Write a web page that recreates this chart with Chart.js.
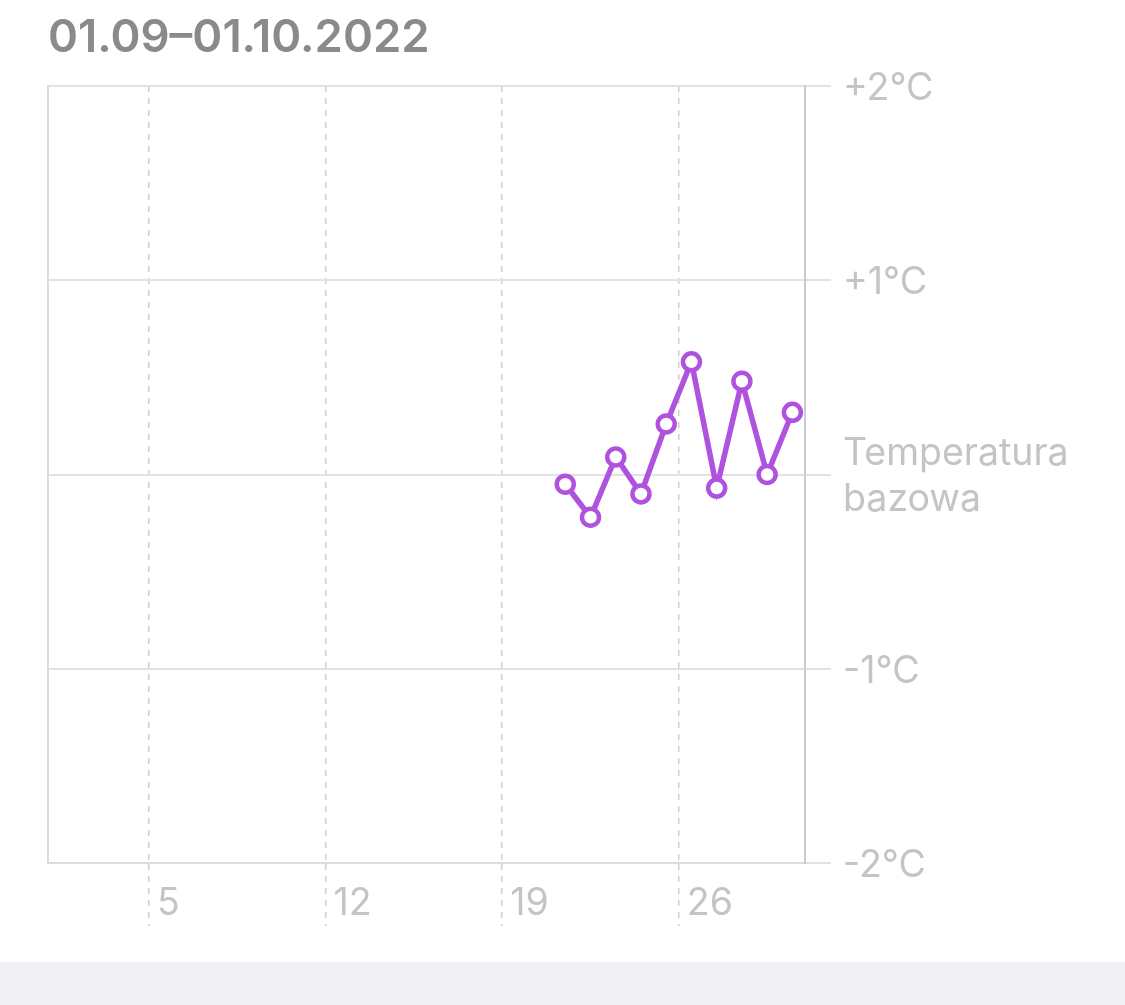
<!DOCTYPE html>
<html>
<head>
<meta charset="utf-8">
<script src="https://cdn.jsdelivr.net/npm/chart.js@4/dist/chart.umd.min.js"></script>
<style>
  html, body { margin: 0; padding: 0; background: #f0f0f5; }
  #wrap { position: relative; width: 1125px; height: 962px; background: #ffffff; }
  #title { position: absolute; left: 48px; top: 9px; font-family: Inter, "Noto Sans", sans-serif; font-weight: 600; font-size: 45.5px; line-height: 54px; color: #8a8a8e; }
  canvas { position: absolute; left: 0; top: 0; }
</style>
</head>
<body>
<div id="wrap">
  <canvas id="c" width="1125" height="962"></canvas>
  <div id="title">01.09–01.10.2022</div>
</div>
<script>
// ---- data ----
const dayLabels = ['21.09', '22.09', '23.09', '24.09', '25.09', '26.09', '27.09', '28.09', '29.09', '30.09'];
const dayPositions = [21.5, 22.5, 23.5, 24.5, 25.5, 26.5, 27.5, 28.5, 29.5, 30.5];
const temperatureDeviation = [-0.05, -0.22, 0.09, -0.10, 0.26, 0.58, -0.07, 0.48, 0.00, 0.32];
const xTickValues = [5, 12, 19, 26];
const yTickValues = [-2, -1, 0, 1, 2];
const yTickLabels = ['-2°C', '-1°C', ['Temperatura', 'bazowa'], '+1°C', '+2°C'];

const points = dayPositions.map((x, i) => ({ x: x, y: temperatureDeviation[i] }));
const purple = '#af52de';
const font = 'Inter';

new Chart(document.getElementById('c'), {
  type: 'line',
  data: {
    datasets: [{
      label: 'Temperatura',
      data: points,
      borderColor: purple,
      borderWidth: 5.5,
      pointRadius: 8.5,
      pointHoverRadius: 8.5,
      pointBorderWidth: 4.5,
      pointBackgroundColor: '#ffffff',
      pointBorderColor: purple,
      tension: 0,
      clip: false
    }]
  },
  options: {
    responsive: false,
    animation: false,
    devicePixelRatio: 1,
    layout: { padding: { top: 86, left: 48, right: 0, bottom: 0 } },
    plugins: { legend: { display: false }, tooltip: { enabled: false }, title: { display: false } },
    scales: {
      x: {
        type: 'linear',
        position: 'bottom',
        min: 1,
        max: 31,
        afterBuildTicks: (s) => { s.ticks = xTickValues.map(v => ({ value: v })); },
        afterFit: (s) => { s.height = 99; },
        grid: {
          display: true,
          drawOnChartArea: true,
          drawTicks: true,
          tickLength: 63,
          color: '#cfcfd2',
          lineWidth: 1.5,
          tickColor: '#cfcfd2',
          tickWidth: 1.5,
          tickBorderDash: [6, 6]
        },
        border: { display: true, color: '#dcdcdf', width: 2, dash: [6, 6] },
        ticks: {
          align: 'start',
          labelOffset: 8,
          padding: -45,
          color: '#c4c4c7',
          font: { family: font, size: 37.5 },
          maxRotation: 0,
          autoSkip: false,
          callback: (v) => String(v)
        }
      },
      y: {
        type: 'linear',
        position: 'right',
        min: -2,
        max: 2,
        afterBuildTicks: (s) => { s.ticks = yTickValues.map(v => ({ value: v })); },
        afterFit: (s) => { s.width = 320; },
        grid: {
          display: true,
          drawOnChartArea: true,
          drawTicks: true,
          tickLength: 26,
          color: '#e2e2e4',
          lineWidth: 2,
          tickColor: '#e2e2e4',
          tickWidth: 2
        },
        border: { display: true, color: '#cbcbce', width: 2 },
        ticks: {
          padding: 12,
          labelOffset: 2.5,
          color: '#c4c4c7',
          font: { family: font, size: 37.5, lineHeight: 1.23 },
          callback: (v) => { const i = yTickValues.indexOf(v); return i >= 0 ? yTickLabels[i] : ''; }
        }
      },
      yLeft: {
        type: 'linear',
        position: 'left',
        min: -2,
        max: 2,
        afterFit: (s) => { s.width = 0; },
        grid: { display: false, drawTicks: false },
        border: { display: true, color: '#dcdcdf', width: 2 },
        ticks: { display: false }
      }
    }
  }
});
</script>
</body>
</html>
